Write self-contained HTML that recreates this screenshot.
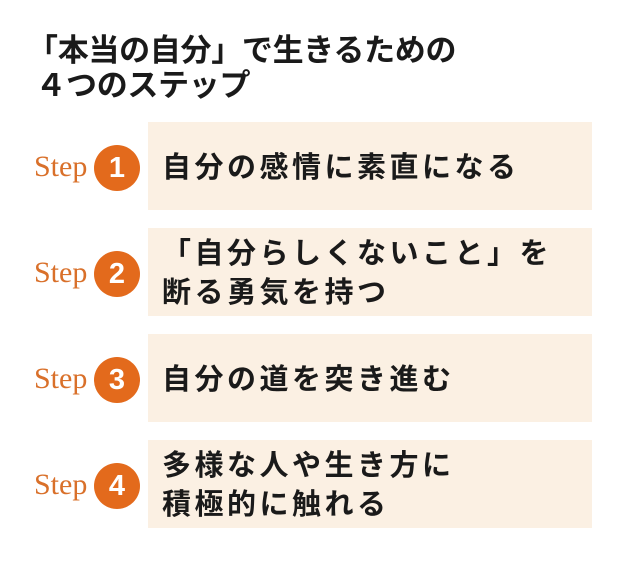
<!DOCTYPE html>
<html><head><meta charset="utf-8"><style>
body{margin:0;width:620px;height:562px;background:#fff;position:relative;overflow:hidden;font-family:"Liberation Sans","Noto Sans CJK JP",sans-serif;}
.t{position:absolute;left:27px;top:33px;font-size:31px;font-weight:bold;line-height:35px;color:#1a1a1a;white-space:nowrap;letter-spacing:-0.3px;}
.box{position:absolute;left:148px;width:444px;height:88px;background:#fbf0e3;}
.txt{position:absolute;left:162px;font-size:29px;font-weight:bold;letter-spacing:3.5px;color:#1a1a1a;line-height:39px;white-space:nowrap;}
.step{position:absolute;left:34px;font-family:"Liberation Serif",serif;font-size:30px;color:#d9702a;}
.c{position:absolute;left:94px;width:46px;height:46px;border-radius:50%;background:#e36a1c;color:#fff;font-weight:bold;font-size:29px;text-align:center;line-height:46px;}
</style></head><body>
<div class="t">「本当の自分」で生きるための<br>&nbsp;４つのステップ</div>

<div class="box" style="top:122px"></div>
<div class="step" style="top:150px">Step</div><div class="c" style="top:145px">1</div>
<div class="txt" style="top:149px">自分の感情に素直になる</div>

<div class="box" style="top:228px"></div>
<div class="step" style="top:256px">Step</div><div class="c" style="top:251px">2</div>
<div class="txt" style="top:235px">「自分らしくないこと」を<br>断る勇気を持つ</div>

<div class="box" style="top:334px"></div>
<div class="step" style="top:362px">Step</div><div class="c" style="top:357px">3</div>
<div class="txt" style="top:361px">自分の道を突き進む</div>

<div class="box" style="top:440px"></div>
<div class="step" style="top:468px">Step</div><div class="c" style="top:463px">4</div>
<div class="txt" style="top:447px">多様な人や生き方に<br>積極的に触れる</div>
</body></html>
